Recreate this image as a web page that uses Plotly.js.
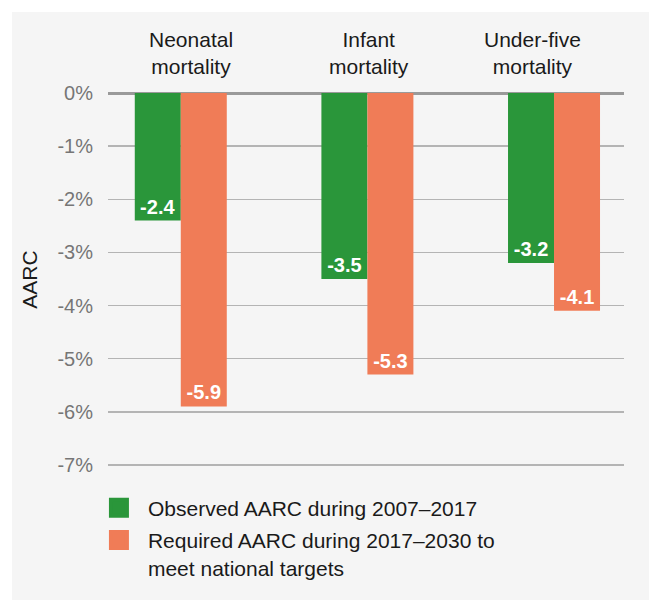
<!DOCTYPE html>
<html><head><meta charset="utf-8">
<script src="https://cdn.plot.ly/plotly-3.0.1.min.js"></script>
<style>
html,body{margin:0;padding:0;background:#ffffff;width:649px;height:600px;overflow:hidden}
#chart{position:absolute;left:12px;top:12px;width:637px;height:588px}
</style></head><body><div id="chart"></div>
<script>
// ---- data ----
const categoryKeys = ['Neonatal', 'Infant', 'Under-five'];
const categoryLabels = ['Neonatal<br>mortality', 'Infant<br>mortality', 'Under-five<br>mortality'];
const observed = [-2.4, -3.5, -3.2];
const required = [-5.9, -5.3, -4.1];
const seriesNames = ['Observed AARC during 2007–2017', 'Required AARC during 2017–2030 to<br>meet national targets'];
const tickVals = [0, -1, -2, -3, -4, -5, -6, -7];
const tickText = ['0%', '-1%', '-2%', '-3%', '-4%', '-5%', '-6%', '-7%'];

// ---- style ----
const GREEN = '#2a963a';
const ORANGE = '#f07c57';
const FONT = 'Liberation Sans, Arial, sans-serif';
const labelShift = [10, 2, -22];

function barTrace(vals, color, name) {
  return {
    type: 'bar', x: categoryKeys, y: vals, name: name, showlegend: false,
    marker: {color: color},
    text: vals.map(v => v.toFixed(1)),
    textposition: 'inside', insidetextanchor: 'end',
    textfont: {color: '#ffffff', size: 20, family: FONT, weight: 'bold'},
    hoverinfo: 'none'
  };
}
function legendTrace(color, name, group) {
  return {
    type: 'scatter', mode: 'markers', x: [null], y: [null], name: name,
    legendgroup: group,
    marker: {symbol: 'square', size: 16, color: color, line: {color: color, width: 4}},
    hoverinfo: 'none'
  };
}

const data = [
  barTrace(observed, GREEN, seriesNames[0]),
  barTrace(required, ORANGE, seriesNames[1]),
  legendTrace(GREEN, seriesNames[0], 'a'),
  legendTrace(ORANGE, seriesNames[1], 'b')
];

const layout = {
  width: 637, height: 588,
  margin: {l: 96, r: 25, t: 81, b: 134, pad: 0},
  paper_bgcolor: '#f5f5f5', plot_bgcolor: '#f5f5f5',
  font: {family: FONT, color: '#1a1a1a'},
  barmode: 'group', bargap: 0.507, bargroupgap: 0,
  showlegend: true,
  legend: {
    x: -0.035, xanchor: 'left', y: -0.058, yanchor: 'top',
    font: {size: 21, color: '#1a1a1a', family: FONT},
    itemsizing: 'trace', itemwidth: 48, valign: 'top',
    traceorder: 'grouped', tracegroupgap: 2,
    bgcolor: 'rgba(0,0,0,0)'
  },
  xaxis: {
    type: 'category', range: [-0.39, 2.375],
    showgrid: false, zeroline: false, showticklabels: false, showline: false,
    fixedrange: true
  },
  yaxis: {
    range: [-7.02, 0], tickvals: tickVals, ticktext: tickText,
    tickfont: {size: 20, color: '#767676', family: FONT},
    ticklabelstandoff: 14,
    showgrid: true, gridcolor: '#b4b4b4', gridwidth: 1.5,
    zeroline: true, zerolinecolor: '#9a9a9a', zerolinewidth: 3,
    showline: false, ticks: '',
    title: {text: 'AARC', font: {size: 21, color: '#1a1a1a', family: FONT}, standoff: 14},
    fixedrange: true
  },
  annotations: categoryKeys.map((k, i) => ({
    x: k, xref: 'x', y: 1, yref: 'paper', yanchor: 'bottom',
    text: categoryLabels[i], showarrow: false, align: 'center',
    xshift: labelShift[i], yshift: 13,
    font: {size: 21, color: '#1a1a1a', family: FONT}
  }))
};

Plotly.newPlot('chart', data, layout, {displayModeBar: false, staticPlot: true});
</script></body></html>
